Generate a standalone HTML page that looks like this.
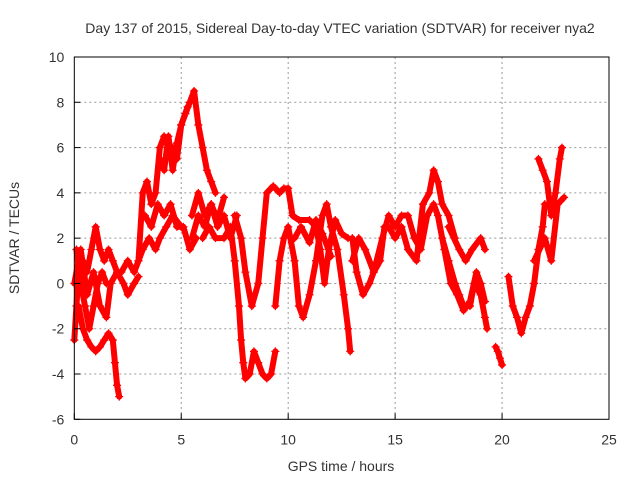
<!DOCTYPE html>
<html><head><meta charset="utf-8"><style>
body{margin:0;background:#fff;}
svg text{font-family:"Liberation Sans",sans-serif;font-size:14px;fill:#333;}
</style></head><body>
<svg id="chart" width="640" height="480" xmlns="http://www.w3.org/2000/svg">
<rect width="640" height="480" fill="#fff"/>
<text x="340" y="33" text-anchor="middle">Day 137 of 2015, Sidereal Day-to-day VTEC variation (SDTVAR) for receiver nya2</text>
<text x="341" y="471" text-anchor="middle">GPS time / hours</text>
<text transform="translate(19,238) rotate(-90)" text-anchor="middle">SDTVAR / TECUs</text>
<g id="grid"></g><g id="marks"></g><g id="axes"></g>
</svg>
<script>
const xTicks=[0,5,10,15,20,25];
const yTicks=[-6,-4,-2,0,2,4,6,8,10];
const trackA_t=[0,0.1,0.2,0.4,0.6,0.8,1.0,1.2,1.4,1.6,1.8,2.0,2.2,2.5,2.8,3.0,3.2,3.5,3.8,4.0,4.3,4.6,5.0];
const trackA_v=[-2.5,-1,0.5,1,0.5,1.5,2.5,1.5,1,1.5,1,0.5,0.5,1,0.5,1,1.5,2,1.5,2,2.5,3,2.5];
const trackB_t=[0.2,0.4,0.6,0.8,1.0,1.2,1.4,1.6,1.8,1.9,2.0,2.1];
const trackB_v=[-1,-2,-2.5,-2.8,-3,-2.8,-2.5,-2.2,-2.5,-3.5,-4.5,-5];
const trackC_t=[0.1,0.3,0.5,0.7,0.9,1.1,1.3,1.5];
const trackC_v=[1.5,0,-1,-2,-1,0,0.5,0];
const trackD_t=[3.0,3.2,3.4,3.6,3.8,4.0,4.2,4.4,4.6,4.8,5.0,5.2,5.4,5.6,5.8,6.0,6.2,6.4,6.6];
const trackD_v=[1,4,4.5,3.5,4,6,6.5,6,6,5.5,7,7.5,8,8.5,7,6,5,4.5,4];
const trackE_t=[6.0,6.3,6.6,7.0,7.3,7.5,7.7,7.8,7.9,8.0,8.2,8.4,8.6,8.8,9.0,9.2,9.4];
const trackE_v=[2,2.5,2,2,2.5,1,-1,-2.5,-3.5,-4.2,-4,-3,-3.5,-4,-4.2,-4,-3];
const trackF_t=[7.5,7.8,8.0,8.3,8.6,8.8,9.0,9.3,9.6,9.8,10.0,10.2,10.5,11.0,11.3,11.5,11.7,11.9,12.2,12.5,12.8];
const trackF_v=[3,2,0.5,-1,0,2,4,4.3,4,4.2,4.2,3,2.8,2.8,2.5,1.5,0,1.5,2.8,2.2,2];
const trackG_t=[9.4,9.6,9.8,10.0,10.3,10.5,10.7,11.0,11.3,11.6,11.8,12.0,12.3,12.6,12.8,12.9];
const trackG_v=[-1,1,2,2.5,1,-1,-1.5,-0.5,1,3,3.5,2.5,1.5,-0.5,-2,-3];
const trackH_t=[5.5,5.8,6.1,6.4,6.7,7.0,7.3,7.6];
const trackH_v=[2,3,2.5,3.5,2.5,3,2,3];
const trackI_t=[13.0,13.2,13.5,13.8,14.0,14.3,14.5,14.7,15.0,15.3,15.6,16.0,16.3,16.6,16.8,17.0,17.2,17.5,17.8];
const trackI_v=[2,0.5,-0.5,0,0.5,1,2.5,2.5,2,2.5,1.5,1,3.5,4,5,4.5,3.5,3,2];
const trackK_t=[17.2,17.5,17.8,18.0,18.2,18.5,18.7,19.0,19.2,19.3];
const trackK_v=[2,1,0,-0.5,-1,-1,0,-0.5,-1.5,-2];
const trackL_t=[17.5,18.0,18.3,18.6,19.0,19.2];
const trackL_v=[2.5,1.5,1,1.5,2,1.5];
const trackM_t=[19.7,19.8,19.9,20.0];
const trackM_v=[-2.8,-3,-3.3,-3.6];
const trackN_t=[20.3,20.5,20.7,20.9,21.1,21.3,21.5,21.7,21.9,22.0];
const trackN_v=[0.3,-1,-1.5,-2.2,-1.5,-1,0,1.5,2.5,3.5];
const trackO_t=[21.7,21.9,22.1,22.3,22.5,22.7,22.8];
const trackO_v=[5.5,5,4.5,3,4,5.5,6];
const trackP_t=[21.5,22.0,22.3,22.6,22.9];
const trackP_v=[1,2,1,3.5,3.8];
const trackQ_t=[0,0.3,0.6,0.9,1.2,1.5,1.7,2.0,2.3,2.5,2.8,3.0];
const trackQ_v=[0,1.5,-0.5,0.5,-1,-1.5,0,0.5,0,-0.5,0,0.3];
const trackR_t=[3.3,3.6,3.9,4.2,4.5,4.8,5.1,5.4,5.7];
const trackR_v=[3,2.5,3.5,3,3.5,2.5,2.5,1.5,2];
const trackS_t=[4.0,4.2,4.4,4.6,4.8,5.0,5.3];
const trackS_v=[5.5,5,6.5,5,6.2,7,7.8];
const trackT_t=[5.5,5.8,6.1,6.4,6.7,7.0];
const trackT_v=[3,4,3,3.5,2.8,3.8];
const trackU_t=[13.0,13.3,13.6,14.0,14.4,14.7,15.0,15.3,15.6,15.9,16.2,16.5,16.8,17.0,17.3,17.6,17.9,18.2,18.5,18.8,19.0,19.2];
const trackU_v=[1,2,1.5,0.5,2,3,2.5,3,3,2,1.5,3,3.5,3,1.5,0,-0.5,-1.2,-0.8,0.5,0,-0.8];
const trackW_t=[10.3,10.6,11.0,11.3,11.6,12.0];
const trackW_v=[2,2.5,1.8,2.8,2.2,1.2];
const tracks=[[trackA_t,trackA_v],[trackB_t,trackB_v],[trackC_t,trackC_v],[trackD_t,trackD_v],[trackE_t,trackE_v],[trackF_t,trackF_v],[trackG_t,trackG_v],[trackH_t,trackH_v],[trackI_t,trackI_v],[trackK_t,trackK_v],[trackL_t,trackL_v],[trackM_t,trackM_v],[trackN_t,trackN_v],[trackO_t,trackO_v],[trackP_t,trackP_v],[trackQ_t,trackQ_v],[trackR_t,trackR_v],[trackS_t,trackS_v],[trackT_t,trackT_v],[trackU_t,trackU_v],[trackW_t,trackW_v]];
const X0=74.3,X1=609,Y0=419.3,Y1=57;
function xs(t){return X0+(t-0)/25*(X1-X0);}
function ys(v){return Y0-(v+6)/16*(Y0-Y1);}
const NS="http://www.w3.org/2000/svg";
function mk(tag,attrs,parent){const e=document.createElementNS(NS,tag);for(const k in attrs)e.setAttribute(k,attrs[k]);parent.appendChild(e);return e;}
const grid=document.getElementById('grid'),axes=document.getElementById('axes'),marks=document.getElementById('marks');
xTicks.forEach(t=>{
 if(t>0&&t<25){const g=mk('line',{x1:xs(t),x2:xs(t),y1:Y1,y2:Y0,stroke:'#999','stroke-dasharray':'2,3'},grid);
 
 }
 const l=mk('text',{x:xs(t),y:Y0+25,'text-anchor':'middle'},axes);l.textContent=t;
 
 
 mk('line',{x1:xs(t),x2:xs(t),y1:Y0,y2:Y0-6,stroke:'#000'},axes);
});
yTicks.forEach(v=>{
 if(v>-6&&v<10){const g=mk('line',{x1:X0,x2:X1,y1:ys(v),y2:ys(v),stroke:'#999','stroke-dasharray':'2,3'},grid);
 
 }
 const l=mk('text',{x:X0-10,y:ys(v)+5,'text-anchor':'end'},axes);l.textContent=v;
 
 
 mk('line',{x1:X0,x2:X0+6,y1:ys(v),y2:ys(v),stroke:'#000'},axes);
});
const fr=mk('rect',{x:X0,y:Y1,width:X1-X0,height:Y0-Y1,fill:'none',stroke:'#000'},axes);


tracks.forEach(([T,V])=>{
 const pts=T.map((t,i)=>xs(t)+','+ys(V[i])).join(' ');
 const pl=mk('polyline',{points:pts,fill:'none',stroke:'#f00','stroke-width':6,'stroke-linejoin':'round','stroke-linecap':'round'},marks);
 
 
 T.forEach((t,i)=>{
  const x=xs(t),y=ys(V[i]);
  const p=mk('path',{d:`M${x-4},${y}H${x+4}M${x},${y-4}V${y+4}`,stroke:'#f00','stroke-width':1.3},marks);
  
  
 });
});
</script>
</body></html>
